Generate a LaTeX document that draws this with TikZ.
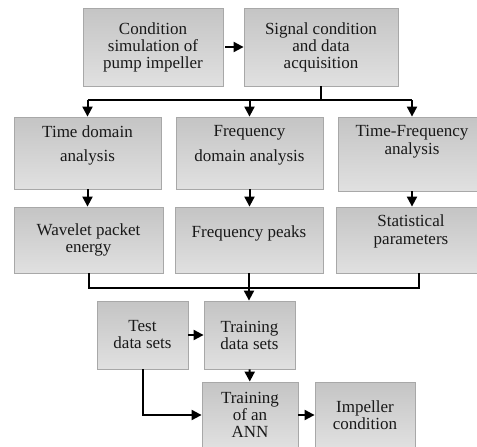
\documentclass[tikz,border=0pt]{standalone}
\usepackage{fontspec}
\setmainfont{Liberation Serif}
\usetikzlibrary{arrows.meta}
\begin{document}
\begin{tikzpicture}[x=1pt, y=-1pt, line join=miter, >={Triangle[length=10pt,width=10pt]}]
	\tikzset{box/.style={draw=gray!68, line width=0.8pt, top color=gray!46, bottom color=gray!24, text=black!90, align=center, font=\fontsize{17}{17}\selectfont, inner sep=0pt},
		boxtext/.style={text=black!90, align=center, font=\fontsize{17}{18}\selectfont, inner sep=0pt},
		link/.style={line width=2pt}}
	\path[use as bounding box, fill=white] (0,0) rectangle (477,447);
	\clip (0,0) rectangle (477,447);
	% top row
	\node[box, minimum width=140, minimum height=78] (sim) at (153,47) {Condition\\simulation of\\pump impeller};
	\node[box, minimum width=154, minimum height=78] (acq) at (321,47) {Signal condition\\and data\\acquisition};
	% analysis
	\node[box, minimum width=147, minimum height=72, label={[boxtext, yshift=8pt]center:{Time domain\\[6pt]analysis}}] (tda) at (87.5,153) {};
	\node[box, minimum width=147, minimum height=72, label={[boxtext, yshift=7.5pt]center:{Frequency\\[7pt]domain analysis}}] (fda) at (249.5,153) {};
	\node[box, minimum width=148, minimum height=74, label={[boxtext, yshift=12pt]center:{Time-Frequency\\analysis}}] (tfa) at (412,154) {};
	% features
	\node[box, minimum width=149, minimum height=66] (wpe) at (88.5,240) {Wavelet packet\\energy};
	\node[box, minimum width=148, minimum height=66, label={[boxtext, yshift=7pt]center:Frequency peaks}] (fpk) at (249,240) {};
	\node[box, minimum width=150, minimum height=66, label={[boxtext, yshift=8.5pt]center:{Statistical\\parameters}}] (stp) at (411,240) {};
	% data sets and network
	\node[box, minimum width=91, minimum height=68] (tst) at (142.5,335) {Test\\data sets};
	\node[box, minimum width=91, minimum height=68] (trd) at (249.5,335) {Training\\data sets};
	\node[box, minimum width=96, minimum height=66] (ann) at (250,415) {Training\\of an\\ANN};
	\node[box, minimum width=100, minimum height=66] (imp) at (365,415) {Impeller\\condition};
	% connectors
	\draw[link,->,shorten <=2pt] (sim) -- (acq);
	\draw[link] (acq.south) -- ++(0,14) coordinate (split);
	\draw[link] (tda.north |- split) -- (tfa.north |- split);
	\foreach \n in {tda,fda,tfa}
		\draw[link,->] (\n.north |- split) -- (\n.north);
	\foreach \a/\b in {tda/wpe,fda/fpk,tfa/stp}
		\draw[link,->] (\a.south) -- (\a.south |- \b.north);
	\draw[link] (fpk.south) -- ++(0,15) coordinate (merge);
	\draw[link] (wpe.south) |- (merge) -| ([xshift=8pt]stp.south);
	\draw[link,->] (merge) -- (merge |- trd.north);
	\draw[link,->] (tst) -- (trd);
	\draw[link,->] (trd) -- (ann);
	\draw[link,->] (tst.south) |- (ann.west);
	\draw[link,->] (ann) -- (imp);
\end{tikzpicture}
\end{document}
